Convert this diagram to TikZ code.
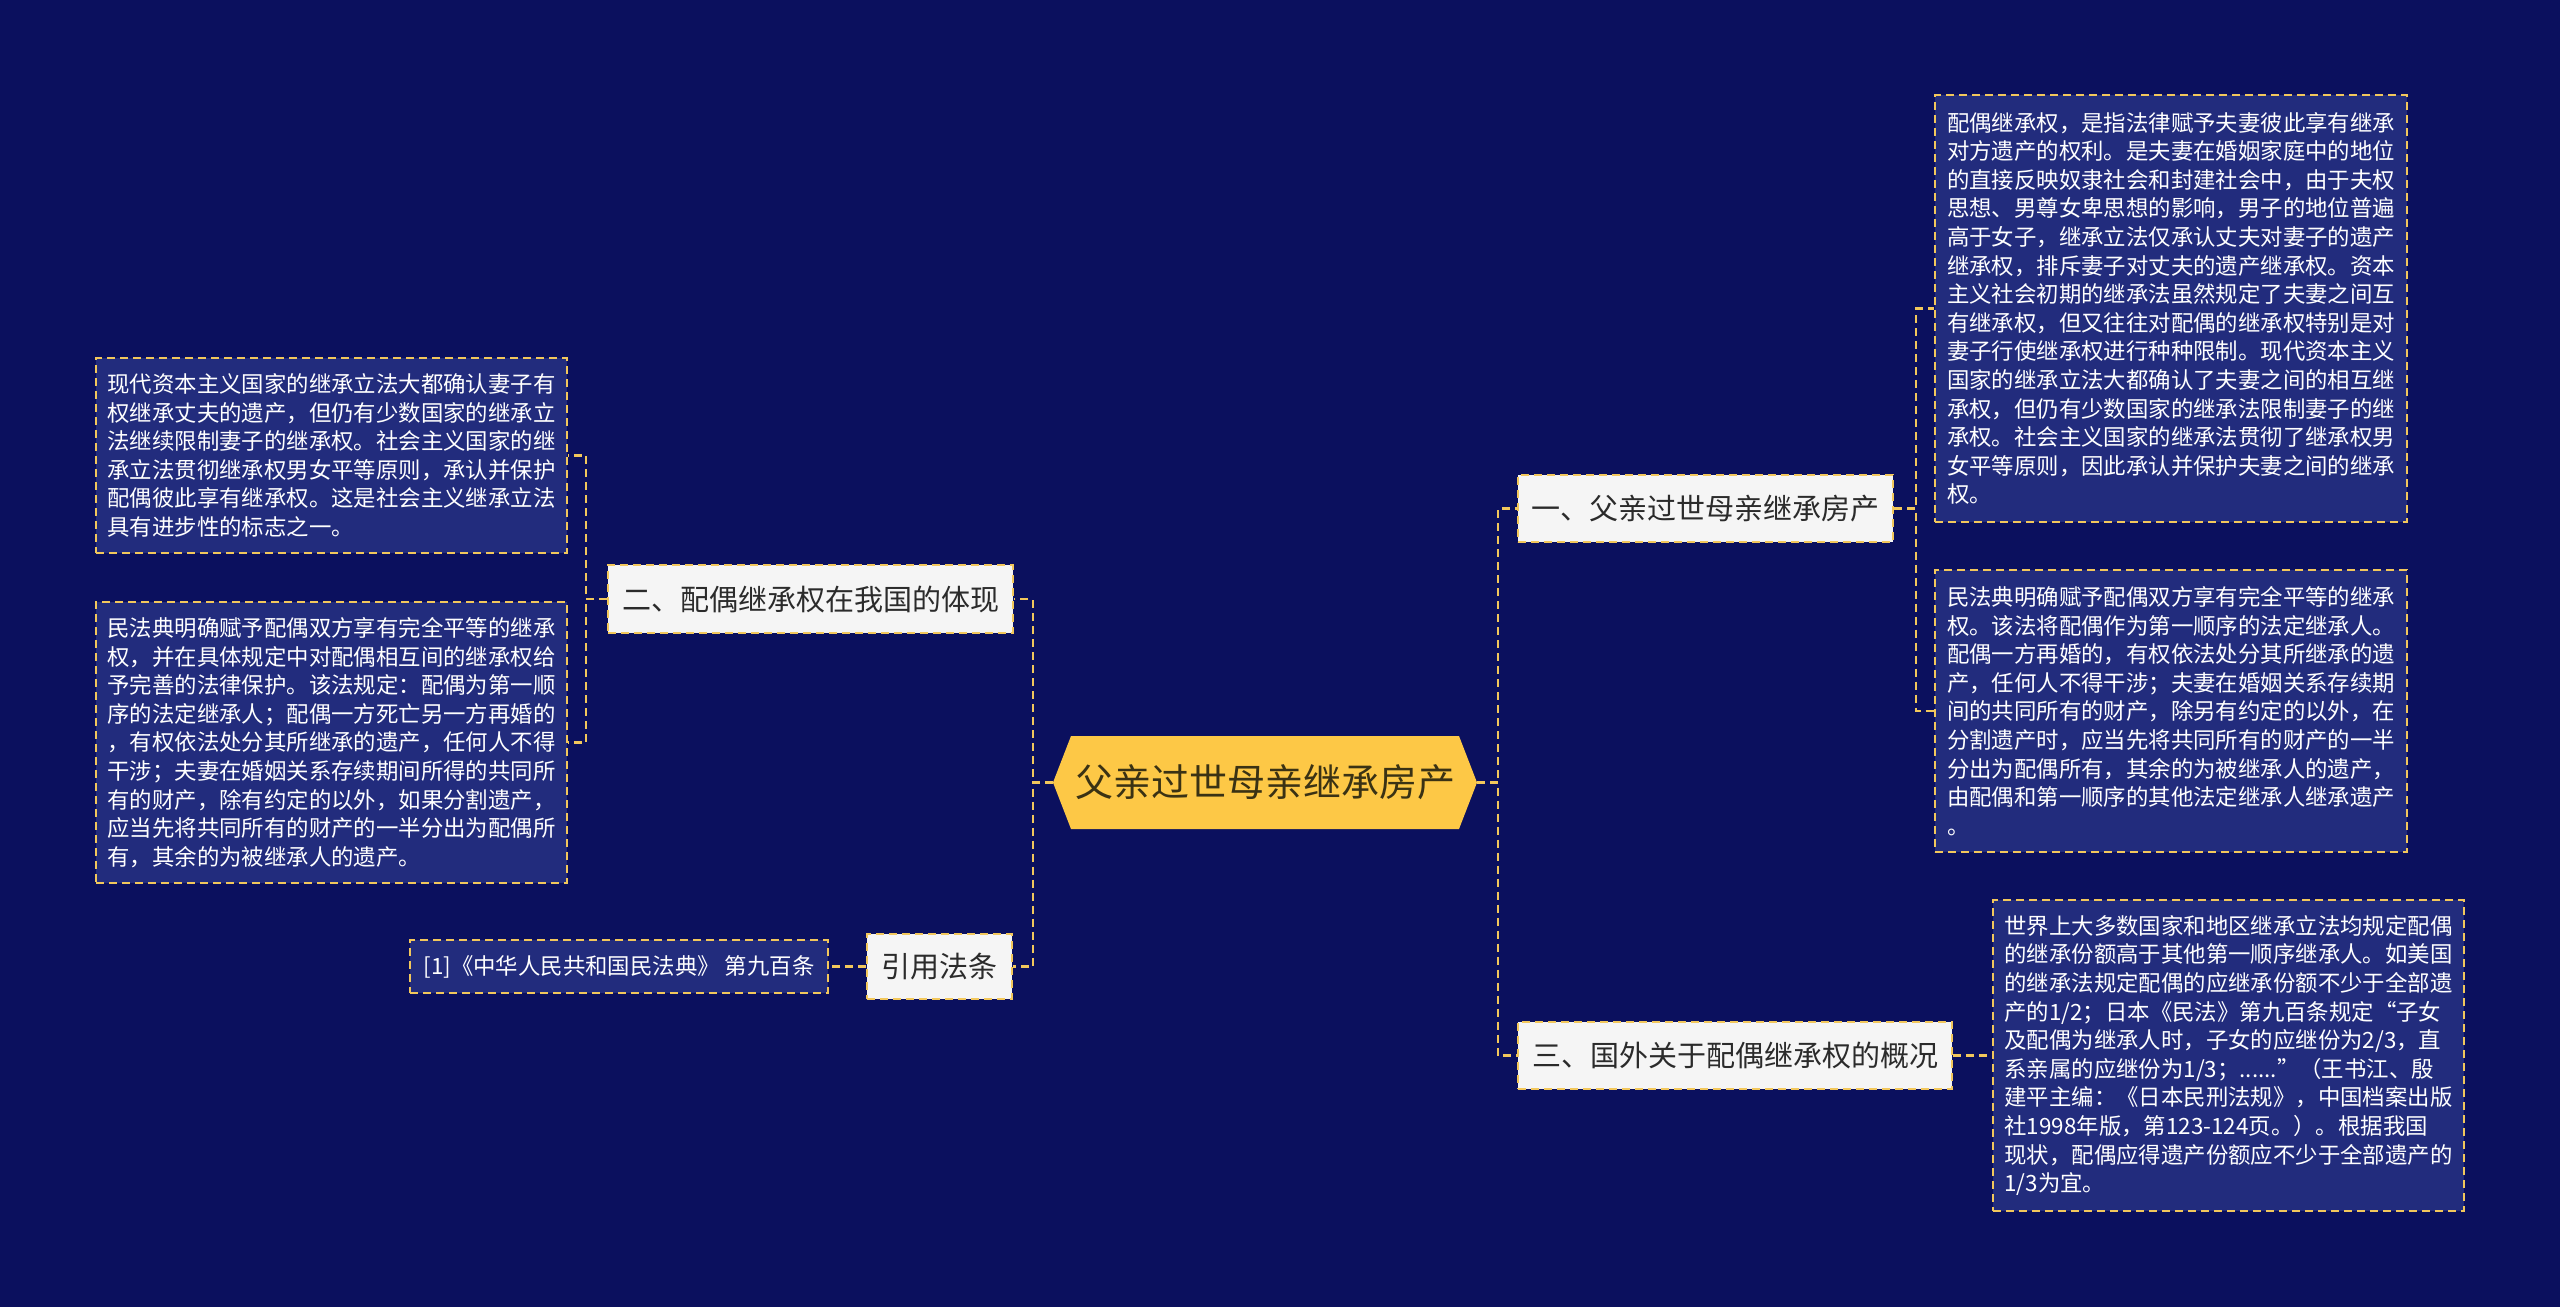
\documentclass[tikz,border=0pt]{standalone}
\usepackage{fontspec}
\setmainfont{Noto Sans CJK SC}
\definecolor{bgc}{HTML}{0B105E}
\definecolor{leafc}{HTML}{222C7D}
\definecolor{linec}{HTML}{F2C75C}
\definecolor{hexc}{HTML}{FDC846}
\definecolor{branchc}{HTML}{F5F5F5}
\definecolor{btext}{HTML}{2B2B2B}
\definecolor{ctext}{HTML}{3A3214}
\begin{document}
\begin{tikzpicture}[x=1pt,y=-1pt,
  conn/.style={draw=linec, line width=2.5pt, dash pattern=on 8pt off 5pt},
  leafbox/.style={draw=linec, line width=2pt, dash pattern=on 8pt off 5pt, fill=leafc, text=white, align=left, inner sep=0pt, font=\fontsize{22.4}{28.6}\selectfont},
  branchbox/.style={draw=linec, line width=2pt, dash pattern=on 8pt off 5pt, fill=branchc, text=btext, inner sep=0pt, minimum height=67pt, font=\fontsize{29}{34}\selectfont},
]
\fill[bgc] (0,0) rectangle (2560,1307);
\useasboundingbox (0,0) rectangle (2560,1307);

% central hexagon
\fill[hexc] (1053,782.5) -- (1071,736) -- (1459,736) -- (1477,782.5) -- (1459,829) -- (1071,829) -- cycle;
\node[inner sep=0pt, minimum width=424pt, minimum height=93pt, text=ctext, font=\fontsize{38}{44}\selectfont] (c) at (1265,782.5) {父亲过世母亲继承房产};

% branches
\node[branchbox, minimum width=375pt] (b1) at (1705.5,508.5) {一、父亲过世母亲继承房产};
\node[branchbox, minimum width=434pt] (b3) at (1735,1055.5) {三、国外关于配偶继承权的概况};
\node[branchbox, minimum width=405pt, minimum height=68pt] (b2) at (810.5,599) {二、配偶继承权在我国的体现};
\node[branchbox, minimum width=145pt, minimum height=65pt] (cite) at (939.5,966.5) {引用法条};

% leaves
\node[leafbox, minimum width=472pt, minimum height=427pt] (r1) at (2171,308.5) {配偶继承权，是指法律赋予夫妻彼此享有继承\\对方遗产的权利。是夫妻在婚姻家庭中的地位\\的直接反映奴隶社会和封建社会中，由于夫权\\思想、男尊女卑思想的影响，男子的地位普遍\\高于女子，继承立法仅承认丈夫对妻子的遗产\\继承权，排斥妻子对丈夫的遗产继承权。资本\\主义社会初期的继承法虽然规定了夫妻之间互\\有继承权，但又往往对配偶的继承权特别是对\\妻子行使继承权进行种种限制。现代资本主义\\国家的继承立法大都确认了夫妻之间的相互继\\承权，但仍有少数国家的继承法限制妻子的继\\承权。社会主义国家的继承法贯彻了继承权男\\女平等原则，因此承认并保护夫妻之间的继承\\权。};
\node[leafbox, minimum width=472pt, minimum height=282pt] (r2) at (2171,711) {民法典明确赋予配偶双方享有完全平等的继承\\权。该法将配偶作为第一顺序的法定继承人。\\配偶一方再婚的，有权依法处分其所继承的遗\\产，任何人不得干涉；夫妻在婚姻关系存续期\\间的共同所有的财产，除另有约定的以外，在\\分割遗产时，应当先将共同所有的财产的一半\\分出为配偶所有，其余的为被继承人的遗产，\\由配偶和第一顺序的其他法定继承人继承遗产\\。};
\node[leafbox, minimum width=471pt, minimum height=311pt] (r3) at (2228.5,1055.5) {世界上大多数国家和地区继承立法均规定配偶\\的继承份额高于其他第一顺序继承人。如美国\\的继承法规定配偶的应继承份额不少于全部遗\\产的1/2；日本《民法》第九百条规定“子女\\及配偶为继承人时，子女的应继份为2/3，直\\系亲属的应继份为1/3；......”（王书江、殷\\建平主编：《日本民刑法规》，中国档案出版\\社1998年版，第123-124页。）。根据我国\\现状，配偶应得遗产份额应不少于全部遗产的\\1/3为宜。};
\node[leafbox, minimum width=471pt, minimum height=195pt] (l1) at (331.5,455.5) {现代资本主义国家的继承立法大都确认妻子有\\权继承丈夫的遗产，但仍有少数国家的继承立\\法继续限制妻子的继承权。社会主义国家的继\\承立法贯彻继承权男女平等原则，承认并保护\\配偶彼此享有继承权。这是社会主义继承立法\\具有进步性的标志之一。};
\node[leafbox, minimum width=471pt, minimum height=281pt] (l2) at (331.5,742.5) {民法典明确赋予配偶双方享有完全平等的继承\\权，并在具体规定中对配偶相互间的继承权给\\予完善的法律保护。该法规定：配偶为第一顺\\序的法定继承人；配偶一方死亡另一方再婚的\\，有权依法处分其所继承的遗产，任何人不得\\干涉；夫妻在婚姻关系存续期间所得的共同所\\有的财产，除有约定的以外，如果分割遗产，\\应当先将共同所有的财产的一半分出为配偶所\\有，其余的为被继承人的遗产。};
\node[leafbox, minimum width=418pt, minimum height=53pt] (cl) at (619,966.5) {[1]《中华人民共和国民法典》 第九百条};

% connectors
\draw[conn] (c.east) -- ++(21,0) |- (b1.west);
\draw[conn] (c.east) -- ++(21,0) |- (b3.west);
\draw[conn] (c.west) -- ++(-20,0) |- (b2.east);
\draw[conn] (c.west) -- ++(-20,0) |- (cite.east);
\draw[conn] (b1.east) -- ++(22,0) |- (r1.west);
\draw[conn] (b1.east) -- ++(22,0) |- (r2.west);
\draw[conn] (b3.east) -- (r3.west);
\draw[conn] (b2.west) -- ++(-21,0) |- (l1.east);
\draw[conn] (b2.west) -- ++(-21,0) |- (l2.east);
\draw[conn] (cite.west) -- (cl.east);
\end{tikzpicture}
\end{document}
